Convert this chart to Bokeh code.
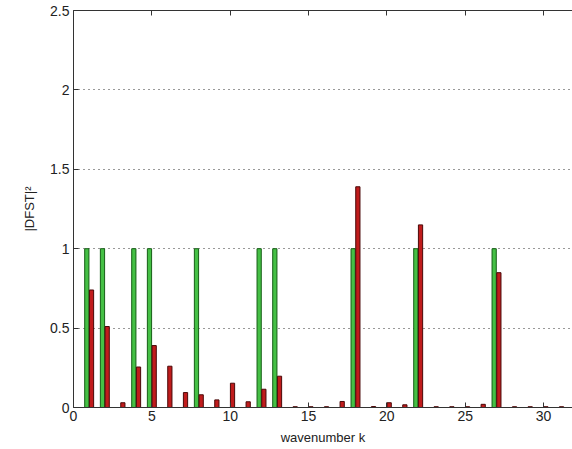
from bokeh.plotting import figure
from bokeh.models import ColumnDataSource, LinearAxis, FixedTicker, Range1d
from bokeh.transform import dodge
from bokeh.embed import file_html
from bokeh.resources import INLINE

# data
k = list(range(0, 32))
green = [0, 1, 1, 0, 1, 1, 0, 0, 1, 0, 0, 0, 1, 1, 0, 0,
         0, 0, 1, 0, 0, 0, 1, 0, 0, 0, 0, 1, 0, 0, 0, 0]
red = [0.0, 0.74, 0.51, 0.03, 0.255, 0.39, 0.26, 0.094, 0.08, 0.048, 0.153, 0.036,
       0.115, 0.197, 0.005, 0.005, 0.005, 0.038, 1.39, 0.006, 0.03, 0.017, 1.15, 0.005,
       0.005, 0.005, 0.02, 0.849, 0.005, 0.005, 0.005, 0.005]
x_ticks = [0, 5, 10, 15, 20, 25, 30]
y_ticks = [0, 0.5, 1, 1.5, 2, 2.5]

src = ColumnDataSource(dict(k=k, green=green, red=red))

FONT = "Liberation Sans"
p = figure(width=572, height=449, output_backend="svg", toolbar_location=None,
           x_range=Range1d(0, 31.85), y_range=Range1d(0, 2.5),
           min_border_left=73, min_border_right=0, min_border_top=10,
           min_border_bottom=42, outline_line_color=None)
p.background_fill_color = "white"
p.border_fill_color = "white"

p.vbar(x=dodge("k", -0.15, range=p.x_range), top="green", width=0.27, bottom=0,
       source=src, fill_color="#45c045", line_color="#155e15", line_width=1)
p.vbar(x=dodge("k", 0.15, range=p.x_range), top="red", width=0.27, bottom=0,
       source=src, fill_color="#c01c1c", line_color="#4a0808", line_width=1)

for ax in (p.xaxis[0], p.yaxis[0]):
    ax.major_tick_in = 5
    ax.major_tick_out = 0
    ax.minor_tick_in = 0
    ax.minor_tick_out = 0
    ax.axis_line_color = "#333333"
    ax.major_tick_line_color = "#333333"
    ax.major_label_text_font = FONT
    ax.major_label_text_font_size = "14px"
    ax.major_label_text_color = "#222222"
    ax.axis_label_text_font = FONT
    ax.axis_label_text_font_style = "normal"
    ax.axis_label_text_font_size = "13px"
    ax.axis_label_text_color = "#222222"

p.xaxis[0].ticker = FixedTicker(ticks=x_ticks)
p.yaxis[0].ticker = FixedTicker(ticks=y_ticks)
p.yaxis[0].major_label_overrides = {0: "0", 0.5: "0.5", 1: "1", 1.5: "1.5", 2: "2", 2.5: "2.5"}
p.xaxis[0].axis_label = "wavenumber k"
p.xaxis[0].axis_label_standoff = 6
p.xaxis[0].major_label_standoff = 3
p.yaxis[0].axis_label = "|DFST|²"
p.yaxis[0].axis_label_standoff = 10
p.yaxis[0].major_label_standoff = 4

top = LinearAxis(ticker=FixedTicker(ticks=x_ticks),
                 major_label_overrides={t: "" for t in x_ticks},
                 major_label_standoff=0,
                 major_tick_in=5, major_tick_out=0, minor_tick_in=0, minor_tick_out=0,
                 axis_line_color="#333333", major_tick_line_color="#333333")
p.add_layout(top, "above")

p.xgrid.visible = False
p.ygrid[0].ticker = FixedTicker(ticks=[0.5, 1, 1.5, 2])
p.ygrid[0].grid_line_color = "#333333"
p.ygrid[0].grid_line_dash = "1 4"
p.ygrid[0].grid_line_width = 1

open("out.html", "w").write(file_html(p, INLINE))
